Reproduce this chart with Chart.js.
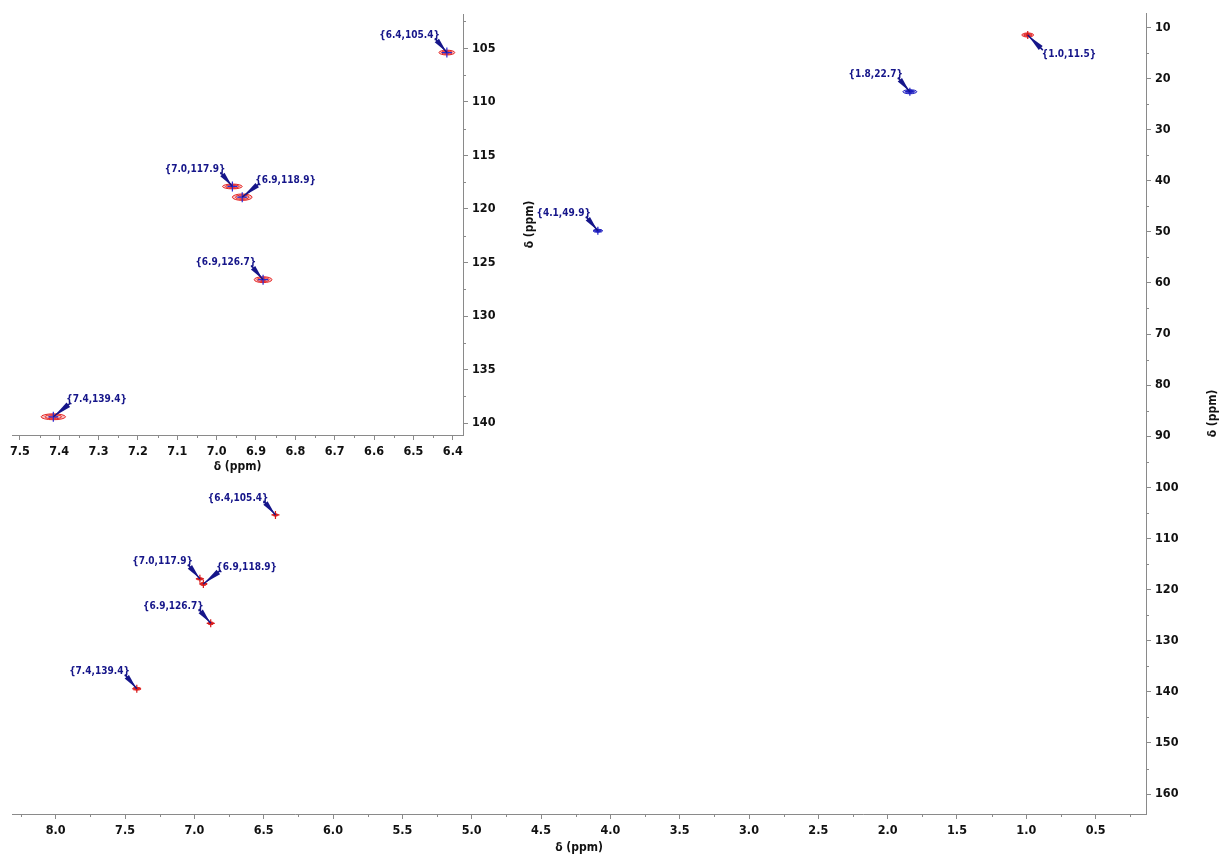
<!DOCTYPE html>
<html><head><meta charset="utf-8">
<script src="https://cdn.jsdelivr.net/npm/chart.js@4.4.1/dist/chart.umd.min.js"></script>
<style>
html,body{margin:0;padding:0;background:#fff;}
#wrap{position:relative;width:1222px;height:857px;overflow:hidden;}
canvas{position:absolute;left:0;top:0;}
</style></head><body>
<div id="wrap">
<canvas id="main" width="1222" height="857"></canvas>
<canvas id="inset" width="560" height="480"></canvas>
</div>
<script>
// ---- data ----
const peakH = [0.99, 1.84, 4.09, 6.415, 6.96, 6.935, 6.882, 7.415];          // 1H shift (ppm)
const peakC = [11.5, 22.6, 49.8, 105.4, 117.9, 118.9, 126.6, 139.4];         // 13C shift (ppm)
const peakLabels = ['{1.0,11.5}', '{1.8,22.7}', '{4.1,49.9}', '{6.4,105.4}', '{7.0,117.9}', '{6.9,118.9}', '{6.9,126.7}', '{7.4,139.4}'];
const peakWidthH = [0.085, 0.10, 0.07, 0.04, 0.05, 0.05, 0.045, 0.062];      // contour width (ppm)
const peakWidthC = [0.8, 0.8, 0.6, 0.45, 0.45, 0.6, 0.55, 0.55];             // contour height (ppm)
const peakPhase = [1, -1, -1, 1, 1, 1, 1, 1];                                  // +CH/CH3, -CH2
const mainXTicks = [8.0, 7.5, 7.0, 6.5, 6.0, 5.5, 5.0, 4.5, 4.0, 3.5, 3.0, 2.5, 2.0, 1.5, 1.0, 0.5];
const mainYTicks = [10, 20, 30, 40, 50, 60, 70, 80, 90, 100, 110, 120, 130, 140, 150, 160];
const insetXTicks = [7.5, 7.4, 7.3, 7.2, 7.1, 7.0, 6.9, 6.8, 6.7, 6.6, 6.5, 6.4];
const insetYTicks = [105, 110, 115, 120, 125, 130, 135, 140];
const axisTitle = 'δ (ppm)';

// ---- layout / style ----
const mainLabelSide = ['lr', 'ul', 'ul', 'ul', 'ul', 'ur', 'ul', 'ul'];
const insetLabelSide = ['lr', 'ul', 'ul', 'ul', 'ul', 'ur', 'ul', 'ur'];
const TICK_FONT = {family: '"DejaVu Sans Condensed", "DejaVu Sans", sans-serif', size: 12.5, weight: 'bold'};
const LABEL_FONT = 'bold 10px "DejaVu Sans Condensed", "DejaVu Sans", sans-serif';
const TITLE_FONT = 'bold 12px "DejaVu Sans Condensed", "DejaVu Sans", sans-serif';
const NAVY = '#16168a';
const AXIS_GREY = '#8a8a8a';

function withMinors(majors, lo, hi) {
  const out = [];
  const step = Math.abs(majors[1] - majors[0]) / 2;
  const sorted = majors.slice().sort((a, b) => a - b);
  const first = sorted[0] - step, last = sorted[sorted.length - 1] + step;
  for (let v = first; v <= last + 1e-9; v += step) {
    const r = Math.round(v * 1000) / 1000;
    if (r >= lo && r <= hi) out.push({value: r});
  }
  return out;
}
function isMajor(v, majors) { return majors.some(m => Math.abs(m - v) < 1e-6); }

function makeAxis(opts) {
  const {majors, min, max, pos, fit, decimals, tickLen} = opts;
  return {
    type: 'linear', position: pos, reverse: true, min, max,
    majorsList: majors,
    afterFit: s => { if (pos === 'bottom') s.height = fit; else s.width = fit; },
    afterBuildTicks: s => { s.ticks = withMinors(majors, min, max); },
    grid: {
      drawOnChartArea: false, drawTicks: true, tickLength: tickLen, color: AXIS_GREY, lineWidth: 1,
      tickColor: c => (c.tick && isMajor(c.tick.value, majors)) ? AXIS_GREY : 'rgba(0,0,0,0)'
    },
    border: {display: true, color: AXIS_GREY, width: 1},
    ticks: {
      autoSkip: false, maxRotation: 0, minRotation: 0, includeBounds: false,
      padding: 4, color: '#111', font: TICK_FONT,
      callback: v => isMajor(v, majors) ? v.toFixed(decimals) : ''
    },
    title: {display: false}
  };
}

const minorTickPlugin = {
  id: 'minorTicks',
  afterDraw(chart) {
    const {ctx, chartArea: a} = chart;
    ctx.save();
    ctx.strokeStyle = AXIS_GREY; ctx.lineWidth = 1;
    ['x', 'y'].forEach(k => {
      const s = chart.scales[k];
      const majors = s.options.majorsList;
      s.ticks.forEach(t => {
        if (isMajor(t.value, majors)) return;
        const p = Math.round(s.getPixelForValue(t.value)) + 0.5;
        ctx.beginPath();
        if (k === 'x') { ctx.moveTo(p, a.bottom); ctx.lineTo(p, a.bottom + 3); }
        else { ctx.moveTo(a.right, p); ctx.lineTo(a.right + 3, p); }
        ctx.stroke();
      });
    });
    ctx.restore();
  }
};

const peakPlugin = {
  id: 'peaks',
  beforeDatasetsDraw(chart) {
    const {ctx, chartArea: a, scales: {x, y}} = chart;
    ctx.save();
    ctx.beginPath(); ctx.rect(a.left, a.top, a.right - a.left, a.bottom - a.top); ctx.clip();
    peakH.forEach((h, i) => {
      const px = x.getPixelForValue(h), py = y.getPixelForValue(peakC[i]);
      const rx = Math.abs(x.getPixelForValue(h + peakWidthH[i] / 2) - px);
      const ry = Math.abs(y.getPixelForValue(peakC[i] + peakWidthC[i] / 2) - py);
      const base = peakPhase[i] > 0 ? '228,30,30' : '25,25,190';
      ctx.fillStyle = 'rgba(' + base + ',0.25)';
      ctx.beginPath(); ctx.ellipse(px, py, Math.max(rx, 1), Math.max(ry, 1), 0, 0, Math.PI * 2); ctx.fill();
      [1, 0.68, 0.36].forEach(f => {
        ctx.beginPath();
        ctx.ellipse(px, py, Math.max(rx * f, 0.6), Math.max(ry * f, 0.5), 0, 0, Math.PI * 2);
        ctx.strokeStyle = 'rgba(' + base + ',0.95)'; ctx.lineWidth = 1; ctx.stroke();
      });
    });
    ctx.restore();
  },
  afterDatasetsDraw(chart, args, opts) {
    const {ctx, scales: {x, y}} = chart;
    const sides = opts.sides;
    ctx.save();
    ctx.font = LABEL_FONT; ctx.textBaseline = 'middle';
    peakH.forEach((h, i) => {
      if (h < x.min || h > x.max || peakC[i] < y.min || peakC[i] > y.max) return;
      const px = x.getPixelForValue(h), py = y.getPixelForValue(peakC[i]);
      const side = sides[i];
      let tx, ty, sx, sy, align;
      if (side === 'ul') { tx = px - 7; ty = py - 17; align = 'right'; sx = px - 10; sy = py - 12; }
      else if (side === 'ur') { tx = px + 13; ty = py - 17; align = 'left'; sx = px + 15; sy = py - 12; }
      else { tx = px + 14; ty = py + 19; align = 'left'; sx = px + 13; sy = py + 13; }
      const dx = px - sx, dy = py - sy, L = Math.hypot(dx, dy);
      const nx = -dy / L, ny = dx / L, w = 2.8;
      ctx.fillStyle = NAVY;
      ctx.beginPath();
      ctx.moveTo(sx + nx * w, sy + ny * w);
      ctx.lineTo(px - dx / L, py - dy / L);
      ctx.lineTo(sx - nx * w, sy - ny * w);
      ctx.closePath(); ctx.fill();
      ctx.strokeStyle = NAVY; ctx.lineWidth = 1.5;
      ctx.beginPath(); ctx.moveTo(sx - dx / L * 3, sy - dy / L * 3); ctx.lineTo(px, py); ctx.stroke();
      ctx.textAlign = align;
      ctx.fillText(peakLabels[i], tx, ty);
    });
    ctx.restore();
  }
};

const titlePlugin = {
  id: 'titles',
  afterDraw(chart, args, opts) {
    const {ctx, chartArea: a} = chart;
    ctx.save();
    ctx.font = TITLE_FONT; ctx.fillStyle = '#111'; ctx.textAlign = 'center'; ctx.textBaseline = 'middle';
    ctx.fillText(axisTitle, (a.left + a.right) / 2, opts.xTitleY);
    ctx.translate(opts.yTitleX, (a.top + a.bottom) / 2);
    ctx.rotate(-Math.PI / 2);
    ctx.fillText(axisTitle, 0, 0);
    ctx.restore();
  }
};

function makeChart(el, cfg) {
  return new Chart(el, {
    type: 'scatter',
    data: {
      datasets: [{
        data: peakH.map((h, i) => ({x: h, y: peakC[i]})),
        pointStyle: 'cross', pointRadius: cfg.crossR, pointHoverRadius: cfg.crossR,
        borderColor: peakH.map((h, i) => cfg.crossColor(i)), borderWidth: 1.2,
        backgroundColor: 'transparent'
      }]
    },
    options: {
      responsive: false, animation: false, events: [],
      layout: {padding: cfg.padding},
      clip: false,
      plugins: {
        legend: {display: false}, tooltip: {enabled: false},
        peaks: {sides: cfg.sides},
        titles: {xTitleY: cfg.xTitleY, yTitleX: cfg.yTitleX}
      },
      scales: {x: cfg.x, y: cfg.y}
    },
    plugins: [peakPlugin, titlePlugin, minorTickPlugin]
  });
}

makeChart(document.getElementById('main'), {
  padding: {left: 12, top: 13, right: 0, bottom: 0},
  sides: mainLabelSide, crossR: 4,
  crossColor: i => peakPhase[i] > 0 ? '#d41818' : '#1d1dc0',
  xTitleY: 848, yTitleX: 1213,
  x: makeAxis({majors: mainXTicks, min: 0.137, max: 8.315, pos: 'bottom', fit: 43, decimals: 1, tickLen: 5}),
  y: makeAxis({majors: mainYTicks, min: 7.2, max: 163.9, pos: 'right', fit: 76, decimals: 0, tickLen: 5})
});

makeChart(document.getElementById('inset'), {
  padding: {left: 12, top: 14, right: 0, bottom: 0},
  sides: insetLabelSide, crossR: 5,
  crossColor: i => '#2a2ad0',
  xTitleY: 467, yTitleX: 530,
  x: makeAxis({majors: insetXTicks, min: 6.374, max: 7.52, pos: 'bottom', fit: 45, decimals: 1, tickLen: 5}),
  y: makeAxis({majors: insetYTicks, min: 101.8, max: 141.1, pos: 'right', fit: 97, decimals: 0, tickLen: 5})
});
</script>
</body></html>
